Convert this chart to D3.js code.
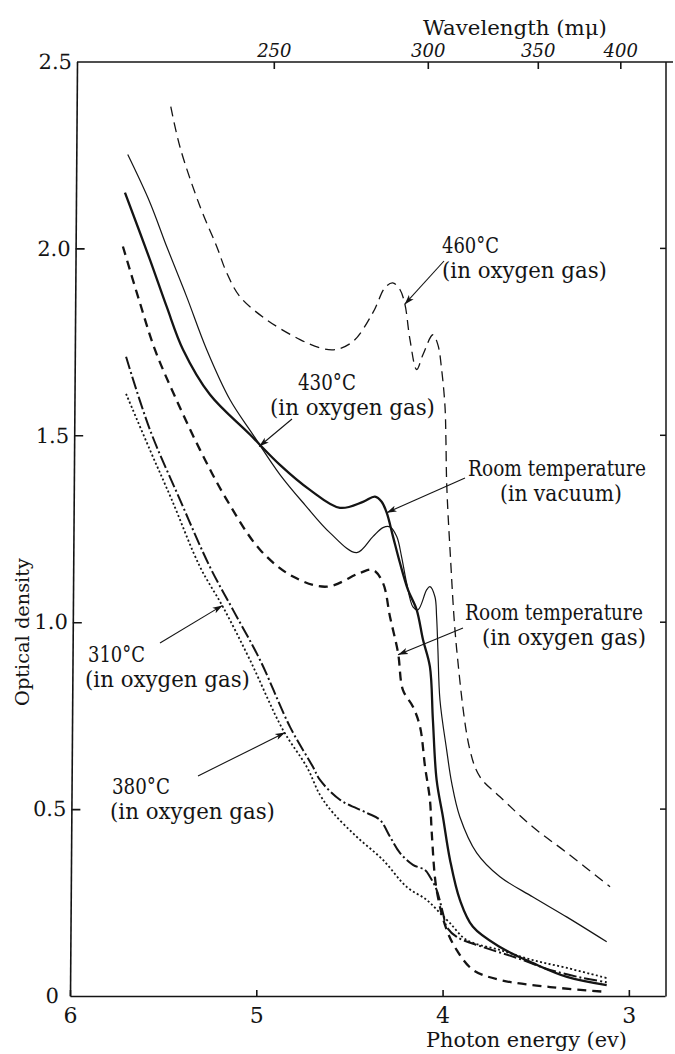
<!DOCTYPE html>
<html><head><meta charset="utf-8">
<script src="https://cdn.jsdelivr.net/npm/d3@7"></script>
<style>
html,body{margin:0;padding:0;background:#fff;}
svg{display:block;}
svg text{font-family:"DejaVu Serif",serif !important;fill:#141414;}
</style></head><body>
<svg id="chart" width="675" height="1054"></svg>
<script>
// Absorption spectra of films treated at different temperatures:
// optical density against photon energy (eV), wavelength (mμ) on top.

const energyTicks = [6, 5, 4, 3];
const densityTicks = [0, 0.5, 1.0, 1.5, 2.0, 2.5];
const densityTickLabels = ["0", "0.5", "1.0", "1.5", "2.0", "2.5"];
const wavelengthTicks = [250, 300, 350, 400];

// 460°C (in oxygen gas)
const e460 = [5.459,5.410,5.302,5.213,5.159,5.088,4.944,4.765,4.658,4.578,4.481,4.374,4.309,4.268,4.229,4.202,4.175,4.139,4.105,4.052,4.025,4.005,3.987,3.982,3.978,3.960,3.924,3.853,3.799,3.692,3.515,3.332,3.101];
const od460 = [2.379,2.272,2.112,2.006,1.935,1.871,1.809,1.756,1.734,1.729,1.751,1.828,1.895,1.908,1.890,1.850,1.756,1.676,1.716,1.769,1.742,1.676,1.577,1.488,1.373,1.194,0.926,0.658,0.586,0.533,0.452,0.383,0.292];

// 430°C (in oxygen gas)
const e430 = [5.690,5.571,5.481,5.374,5.266,5.141,5.018,4.873,4.739,4.604,4.461,4.374,4.320,4.282,4.246,4.220,4.193,4.159,4.132,4.085,4.068,4.041,4.032,4.025,4.014,3.978,3.951,3.907,3.817,3.692,3.515,3.332,3.119];
const od430 = [2.251,2.123,2.005,1.871,1.729,1.595,1.502,1.395,1.314,1.239,1.186,1.229,1.253,1.255,1.229,1.175,1.105,1.041,1.033,1.087,1.095,1.068,1.014,0.926,0.792,0.658,0.570,0.479,0.383,0.319,0.265,0.211,0.145];

// Room temperature (in vacuum)
const eVac = [5.705,5.571,5.481,5.393,5.249,5.034,4.873,4.712,4.551,4.427,4.363,4.327,4.300,4.266,4.229,4.186,4.139,4.105,4.068,4.052,4.032,3.998,3.960,3.907,3.837,3.692,3.515,3.332,3.119];
const odVac = [2.149,1.970,1.844,1.729,1.609,1.502,1.421,1.354,1.306,1.322,1.336,1.322,1.293,1.229,1.159,1.087,1.033,0.953,0.881,0.739,0.578,0.479,0.364,0.257,0.185,0.131,0.088,0.051,0.029];

// Room temperature (in oxygen gas)
const eOxy = [5.716,5.630,5.544,5.436,5.302,5.159,4.980,4.803,4.622,4.443,4.374,4.320,4.282,4.239,4.213,4.159,4.121,4.094,4.068,4.058,4.032,3.978,3.924,3.837,3.692,3.423,3.119];
const odOxy = [2.005,1.863,1.729,1.603,1.461,1.328,1.194,1.122,1.095,1.132,1.140,1.105,1.014,0.918,0.819,0.774,0.720,0.613,0.525,0.436,0.284,0.177,0.123,0.070,0.043,0.024,0.011];

// 380°C (in oxygen gas)
const e380 = [5.699,5.571,5.410,5.249,5.125,4.980,4.819,4.696,4.658,4.551,4.407,4.336,4.282,4.229,4.159,4.094,4.068,4.032,3.998,3.978,3.924,3.783,3.602,3.423,3.246,3.119];
const od380 = [1.710,1.515,1.328,1.148,1.033,0.899,0.720,0.613,0.578,0.525,0.490,0.471,0.426,0.383,0.351,0.337,0.319,0.284,0.222,0.185,0.158,0.131,0.102,0.070,0.048,0.037];

// 310°C (in oxygen gas)
const e310 = [5.699,5.571,5.454,5.302,5.179,5.034,4.857,4.729,4.658,4.588,4.461,4.320,4.193,4.085,4.014,3.960,3.871,3.692,3.515,3.332,3.119];
const od310 = [1.611,1.461,1.328,1.148,1.041,0.899,0.712,0.613,0.538,0.490,0.426,0.364,0.292,0.257,0.222,0.195,0.150,0.123,0.096,0.075,0.048];

const series = [
  {e: e460, od: od460, width: 1.3, dash: "10,6"},
  {e: e430, od: od430, width: 1.2, dash: null},
  {e: eVac, od: odVac, width: 2.3, dash: null},
  {e: eOxy, od: odOxy, width: 2.3, dash: "9,6"},
  {e: e380, od: od380, width: 2.0, dash: "13,3,2,3"},
  {e: e310, od: od310, width: 1.8, dash: "2,2.4"}
];

// Curve labels: text lines with their set widths, anchor point,
// arrow start (px) and arrow tip (data units)
const notes = [
  {lines: ["460°C", "(in oxygen gas)"], widths: [57, 165], x: 442, y: 253, from: [444, 261], tip: [4.204, 1.85]},
  {lines: ["430°C", "(in oxygen gas)"], widths: [58, 165], x: 298, y: 390, dx2: -28, from: [292, 419], tip: [4.985, 1.47]},
  {lines: ["Room temperature", "(in vacuum)"], widths: [178, 122], x: 468, y: 476, dx2: 32, from: [465, 478], tip: [4.300, 1.293]},
  {lines: ["Room temperature", "(in oxygen gas)"], widths: [178, 164], x: 465, y: 620, dx2: 17, from: [463, 628], tip: [4.239, 0.913]},
  {lines: ["310°C", "(in oxygen gas)"], widths: [57, 165], x: 88, y: 662, dx2: -3, from: [160, 643], tip: [5.181, 1.045]},
  {lines: ["380°C", "(in oxygen gas)"], widths: [58, 165], x: 112, y: 794, dx2: -2, from: [198, 776], tip: [4.845, 0.705]}
];

const W = 675, H = 1054;
const svg = d3.select("#chart");
svg.append("rect").attr("width", W).attr("height", H).attr("fill", "#fff");

const x = d3.scaleLinear().domain([6, 2.806]).range([70, 665]);
const y = d3.scaleLinear().domain([0, 2.5]).range([996, 61.5]);
// wavelength scale on the upper edge, positioned by photon energy 1240/λ
const xTop = d3.scaleLinear().domain([6.054, 2.860]).range([70, 665]);

const ink = "#141414";

// bottom axis
const gB = svg.append("g").attr("transform", "translate(0,996)")
  .call(d3.axisBottom(x).tickValues(energyTicks).tickSizeInner(-6).tickSizeOuter(0)
    .tickPadding(11).tickFormat(d3.format("d")));
gB.selectAll("text").attr("font-size", 22).attr("fill", ink);

// left axis (drawn slightly slanted like the printed frame)
const yLocal = y.copy().range([0, -934.5]);
const gL = svg.append("g").attr("transform", "translate(70,996) skewX(-0.43)")
  .call(d3.axisLeft(yLocal).tickValues(densityTicks).tickSizeInner(-9).tickSizeOuter(0)
    .tickPadding(5).tickFormat((d, i) => densityTickLabels[i]));
gL.selectAll("text").attr("font-size", 21).attr("fill", ink);
gL.selectAll(".tick").filter(d => d === 0).select("text").attr("x", -11);
gL.selectAll(".tick").filter(d => d === 0 || d === 2.5).select("line").remove();

// top axis (wavelength)
const gT = svg.append("g").attr("transform", "translate(0,62)")
  .call(d3.axisTop(xTop).tickValues(wavelengthTicks.map(l => 1240 / l)).tickSizeInner(-7)
    .tickSizeOuter(0).tickPadding(5).tickFormat((d, i) => wavelengthTicks[i]));
gT.selectAll("text").attr("font-size", 18).attr("font-style", "italic").attr("fill", ink);
gT.select(".domain").attr("d", "M77,0H673");

// right edge with inward ticks
const gR = svg.append("g").attr("stroke", ink).attr("stroke-width", 1.5);
gR.append("line").attr("x1", 666).attr("x2", 666).attr("y1", 62).attr("y2", 996.5);
gR.selectAll("line.rt").data([0.5, 1.0, 1.5, 2.0]).join("line").attr("class", "rt")
  .attr("x1", 660).attr("x2", 666).attr("y1", d => y(d)).attr("y2", d => y(d));

svg.selectAll(".domain, .tick line").attr("stroke", ink).attr("stroke-width", 1.6);

// text narrowed horizontally to a set width (keeps the tall printed look)
function fitText(parent, str, px, py, width, size, anchor) {
  const g = parent.append("g");
  const t = g.append("text").attr("font-size", size).attr("text-anchor", anchor || "start").text(str);
  const natural = t.node().getComputedTextLength() || width;
  g.attr("transform", `translate(${px},${py}) scale(${width / natural},1)`);
  return g;
}

// axis titles
fitText(svg, "Wavelength (mμ)", 423, 35, 184, 20);
fitText(svg, "Photon energy (ev)", 426, 1047, 201, 20);
fitText(svg.append("g").attr("transform", "translate(29,632) rotate(-90)"),
  "Optical density", 0, 0, 148, 19, "middle");

// spectra
const line = d3.line().x(d => x(d[0])).y(d => y(d[1])).curve(d3.curveCatmullRom.alpha(0.5));
const gS = svg.append("g").attr("fill", "none").attr("stroke", ink)
  .attr("stroke-linejoin", "round");
series.forEach(s => {
  const pts = s.e.map((e, i) => [e, s.od[i]]);
  gS.append("path").attr("d", line(pts)).attr("stroke-width", s.width)
    .attr("stroke-dasharray", s.dash);
});

// arrowhead
svg.append("defs").append("marker").attr("id", "head")
  .attr("viewBox", "0 -4 10 8").attr("refX", 10).attr("refY", 0)
  .attr("markerWidth", 10).attr("markerHeight", 8).attr("markerUnits", "userSpaceOnUse")
  .attr("orient", "auto")
  .append("path").attr("d", "M0,-3.2L10,0L0,3.2L2.5,0Z").attr("fill", ink);

const gN = svg.append("g");
notes.forEach(n => {
  n.lines.forEach((l, i) => {
    fitText(gN, l, n.x + (i === 1 ? (n.dx2 || 0) : 0), n.y + i * 25, n.widths[i], 22);
  });
  gN.append("line").attr("x1", n.from[0]).attr("y1", n.from[1])
    .attr("x2", x(n.tip[0])).attr("y2", y(n.tip[1]))
    .attr("stroke", ink).attr("stroke-width", 1.1).attr("marker-end", "url(#head)");
});
</script>
</body></html>
